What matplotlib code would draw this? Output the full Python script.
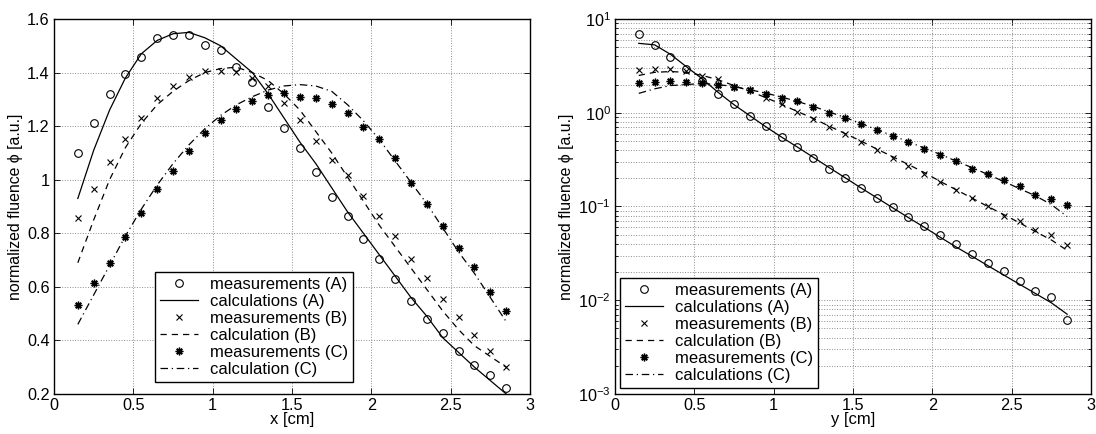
import matplotlib
matplotlib.use('Agg')
import matplotlib.pyplot as plt
import numpy as np

plt.rcParams['font.family'] = ['Liberation Sans', 'DejaVu Sans']
plt.rcParams['font.size'] = 11.7
plt.rcParams['mathtext.fontset'] = 'custom'
plt.rcParams['mathtext.rm'] = 'Liberation Sans'

# positions of the measurements / calculations [cm]
pos = [0.15, 0.25, 0.35, 0.45, 0.55, 0.65, 0.75, 0.85, 0.95, 1.05, 1.15, 1.25, 1.35, 1.45,
       1.55, 1.65, 1.75, 1.85, 1.95, 2.05, 2.15, 2.25, 2.35, 2.45, 2.55, 2.65, 2.75, 2.85]

# x profile (linear)
x_meas_A = [1.10, 1.21, 1.32, 1.396, 1.457, 1.528, 1.542, 1.540, 1.502, 1.484, 1.422, 1.365, 1.273, 1.194,
            1.120, 1.027, 0.934, 0.865, 0.780, 0.703, 0.630, 0.549, 0.480, 0.427, 0.361, 0.310, 0.270, 0.224]
x_calc_A = [0.93, 1.11, 1.26, 1.38, 1.47, 1.52, 1.545, 1.55, 1.53, 1.50, 1.45, 1.40, 1.32, 1.23,
            1.14, 1.06, 0.97, 0.88, 0.80, 0.72, 0.64, 0.56, 0.49, 0.41, 0.355, 0.30, 0.25, 0.20]
x_meas_B = [0.857, 0.967, 1.065, 1.152, 1.231, 1.306, 1.349, 1.382, 1.406, 1.407, 1.402, 1.379, 1.35, 1.285,
            1.222, 1.145, 1.075, 1.017, 0.94, 0.865, 0.788, 0.705, 0.634, 0.556, 0.487, 0.420, 0.360, 0.302]
x_calc_B = [0.69, 0.85, 1.00, 1.12, 1.21, 1.28, 1.33, 1.37, 1.40, 1.415, 1.42, 1.40, 1.37, 1.32,
            1.26, 1.18, 1.10, 1.01, 0.92, 0.83, 0.75, 0.67, 0.59, 0.51, 0.44, 0.38, 0.34, 0.30]
x_meas_C = [0.531, 0.613, 0.689, 0.786, 0.875, 0.967, 1.034, 1.107, 1.176, 1.223, 1.263, 1.293, 1.316, 1.323,
            1.309, 1.304, 1.284, 1.248, 1.197, 1.152, 1.082, 0.987, 0.910, 0.829, 0.744, 0.673, 0.580, 0.508]
x_calc_C = [0.46, 0.57, 0.68, 0.79, 0.89, 0.98, 1.06, 1.13, 1.19, 1.24, 1.28, 1.31, 1.335, 1.35,
            1.355, 1.35, 1.33, 1.28, 1.22, 1.15, 1.07, 0.99, 0.91, 0.82, 0.73, 0.65, 0.56, 0.47]

# y profile (log)
y_meas_A = [6.9, 5.24, 3.90, 2.91, 2.18, 1.60, 1.23, 0.93, 0.72, 0.552, 0.429, 0.330, 0.254, 0.200,
            0.157, 0.124, 0.0983, 0.0776, 0.0617, 0.0491, 0.0394, 0.0313, 0.0251, 0.0203, 0.0161, 0.0126, 0.0107, 0.0061]
y_calc_A = [5.5, 5.3, 4.2, 3.1, 2.3, 1.65, 1.22, 0.93, 0.71, 0.55, 0.43, 0.335, 0.26, 0.203,
            0.158, 0.124, 0.097, 0.076, 0.060, 0.047, 0.037, 0.0295, 0.0234, 0.0186, 0.0148, 0.0118, 0.0094, 0.0071]
y_meas_B = [2.86, 2.91, 2.91, 2.79, 2.47, 2.28, 1.90, 1.75, 1.44, 1.23, 1.02, 0.86, 0.706, 0.590,
            0.493, 0.398, 0.330, 0.271, 0.223, 0.183, 0.149, 0.124, 0.100, 0.0796, 0.0692, 0.0555, 0.0491, 0.0384]
y_calc_B = [2.5, 2.7, 2.75, 2.7, 2.5, 2.25, 1.95, 1.70, 1.45, 1.23, 1.03, 0.87, 0.72, 0.60,
            0.50, 0.41, 0.34, 0.28, 0.23, 0.185, 0.151, 0.123, 0.100, 0.082, 0.067, 0.054, 0.044, 0.034]
y_meas_C = [2.08, 2.15, 2.16, 2.15, 2.10, 1.98, 1.87, 1.74, 1.59, 1.45, 1.32, 1.15, 1.0, 0.874,
            0.767, 0.651, 0.571, 0.489, 0.412, 0.358, 0.307, 0.252, 0.223, 0.192, 0.166, 0.134, 0.119, 0.103]
y_calc_C = [1.61, 1.8, 1.95, 2.0, 2.05, 2.0, 1.9, 1.76, 1.62, 1.47, 1.32, 1.17, 1.02, 0.89,
            0.77, 0.66, 0.57, 0.49, 0.42, 0.36, 0.305, 0.26, 0.22, 0.185, 0.155, 0.13, 0.105, 0.078]

star = (8, 2, 0)
ms = 5.5
lw = 0.9

fig = plt.figure(figsize=(10.96, 4.34), dpi=100)
ax1 = fig.add_axes([0.0493, 0.0922, 0.4343, 0.864])
ax2 = fig.add_axes([0.5611, 0.0922, 0.4343, 0.864])


def style(ax):
    ax.tick_params(direction='in', top=True, right=True, which='both', length=4, width=0.6, pad=3)
    ax.tick_params(which='minor', length=2)
    for s in ax.spines.values():
        s.set_linewidth(1.0)
    ax.set_xlim(0, 3)
    ax.set_xticks(np.arange(0, 3.01, 0.5))
    ax.set_xticklabels(['0', '0.5', '1', '1.5', '2', '2.5', '3'])
    ax.set_ylabel('normalized fluence \u03d5 [a.u.]', labelpad=3, fontsize=11.4)


def legend(ax, anchor):
    leg = ax.legend(loc='lower left', bbox_to_anchor=anchor, fancybox=False, edgecolor='k',
                    framealpha=1, handlelength=2.3, labelspacing=0.12, borderpad=0.3,
                    handletextpad=0.7, borderaxespad=0, fontsize=12)
    leg.get_frame().set_linewidth(1.0)


# left: x profile
ax1.plot(pos, x_meas_A, 'o', mfc='none', mec='k', ms=ms, mew=0.8, label='measurements (A)')
ax1.plot(pos, x_calc_A, '-', color='k', lw=lw, label='calculations (A)')
ax1.plot(pos, x_meas_B, 'x', color='k', ms=4, mew=0.8, label='measurements (B)')
ax1.plot(pos, x_calc_B, '--', color='k', lw=lw, dashes=(5, 4), label='calculation (B)')
ax1.plot(pos, x_meas_C, marker=star, ls='none', color='k', ms=ms, mew=1.0, label='measurements (C)')
ax1.plot(pos, x_calc_C, '-.', color='k', lw=lw, dashes=(6, 3, 1, 3), label='calculation (C)')
ax1.set_ylim(0.2, 1.6)
ax1.set_yticks(np.arange(0.2, 1.61, 0.2))
ax1.set_yticklabels(['0.2', '0.4', '0.6', '0.8', '1', '1.2', '1.4', '1.6'])
ax1.grid(True, ls=':', color='0.55', lw=0.7)
style(ax1)
ax1.set_xlabel('x [cm]', labelpad=-1, fontsize=12)
legend(ax1, (0.212, 0.032))

# right: y profile
ax2.semilogy(pos, y_meas_A, 'o', mfc='none', mec='k', ms=ms, mew=0.8, label='measurements (A)')
ax2.semilogy(pos, y_calc_A, '-', color='k', lw=lw, label='calculations (A)')
ax2.semilogy(pos, y_meas_B, 'x', color='k', ms=4, mew=0.8, label='measurements (B)')
ax2.semilogy(pos, y_calc_B, '--', color='k', lw=lw, dashes=(5, 4), label='calculation (B)')
ax2.semilogy(pos, y_meas_C, marker=star, ls='none', color='k', ms=ms, mew=1.0, label='measurements (C)')
ax2.semilogy(pos, y_calc_C, '-.', color='k', lw=lw, dashes=(6, 3, 1, 3), label='calculations (C)')
ax2.set_ylim(1e-3, 1e1)
ax2.grid(True, which='major', ls=':', color='0.55', lw=0.7)
ax2.grid(True, which='minor', axis='y', ls=':', color='0.55', lw=0.7)
style(ax2)
ax2.set_xlabel('y [cm]', labelpad=-1, fontsize=12)
legend(ax2, (0.0105, 0.016))

fig.savefig('out.png', dpi=100)
